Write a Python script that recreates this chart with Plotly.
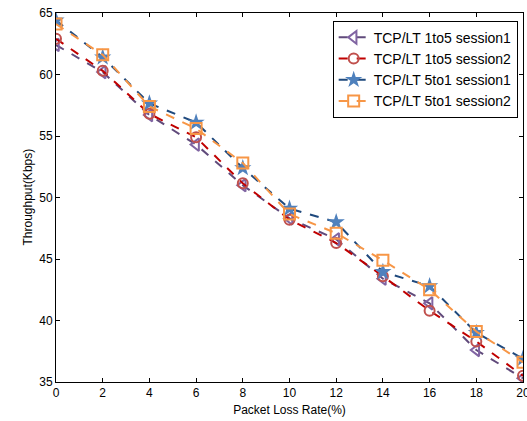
import plotly.graph_objects as go

loss_rate = [0, 2, 4, 6, 8, 10, 12, 14, 16, 18, 20]

tcp_1to5_s1 = [62.4, 60.2, 56.7, 54.3, 51.0, 48.3, 46.6, 43.4, 41.4, 37.6, 35.3]
tcp_1to5_s2 = [62.9, 60.3, 56.8, 54.9, 51.15, 48.2, 46.3, 43.6, 40.8, 38.3, 35.5]
tcp_5to1_s1 = [64.4, 61.4, 57.65, 56.1, 52.4, 49.1, 48.0, 43.95, 42.8, 39.0, 36.9]
tcp_5to1_s2 = [64.1, 61.6, 57.4, 55.6, 52.8, 48.65, 47.1, 44.9, 42.5, 39.1, 36.6]

series = [
    ("TCP/LT 1to5 session1", tcp_1to5_s1, "#604A7B", "#8064A2", "triangle-left-open", 11),
    ("TCP/LT 1to5 session2", tcp_1to5_s2, "#C00000", "#C0504D", "circle-open", 10),
    ("TCP/LT 5to1 session1", tcp_5to1_s1, "#1F497D", "#4F81BD", "star", 13),
    ("TCP/LT 5to1 session2", tcp_5to1_s2, "#F79646", "#F79646", "square-open", 11),
]

fig = go.Figure()
for name, vals, line_col, mk_col, sym, size in series:
    fig.add_trace(go.Scatter(
        x=loss_rate, y=vals, name=name, mode="lines+markers",
        line=dict(color=line_col, width=2, dash="dash"),
        marker=dict(symbol=sym, size=size, color=mk_col,
                    line=dict(color=mk_col, width=2 if "open" in sym else 0)),
    ))

axis_common = dict(
    showline=True, linecolor="black", linewidth=1, mirror="ticks",
    ticks="inside", ticklen=4, tickcolor="black", showgrid=False, zeroline=False,
    ticklabeloverflow="allow", automargin=False,
    tickfont=dict(family="Liberation Sans, Arial", size=12, color="black"),
)

fig.update_xaxes(range=[0, 20], dtick=2, title=dict(text="Packet Loss Rate(%)", standoff=6,
                 font=dict(family="Liberation Sans, Arial", size=12, color="black")), **axis_common)
fig.update_yaxes(range=[35, 65], dtick=5, **axis_common)

# y title as annotation so it sits where the reference has it
fig.add_annotation(
    text="Throughput(Kbps)", textangle=-90, showarrow=False,
    xref="paper", yref="paper", x=0, y=0.5, xshift=-38,
    font=dict(family="Liberation Sans, Arial", size=12, color="black"),
)

fig.update_layout(
    width=527, height=421,
    margin=dict(l=56, r=4, t=13, b=39),
    paper_bgcolor="white", plot_bgcolor="white",
    font=dict(family="Liberation Sans, Arial", size=12, color="black"),
    legend=dict(x=0.9886, y=0.979, xanchor="right", yanchor="top",
                bordercolor="black", borderwidth=1, bgcolor="white",
                font=dict(size=14), tracegroupgap=0),
)

# drop the default body margin so the figure fills the window exactly
fig.write_html("out.html", config={"displayModeBar": False},
               post_script="document.body.style.margin='0';")
